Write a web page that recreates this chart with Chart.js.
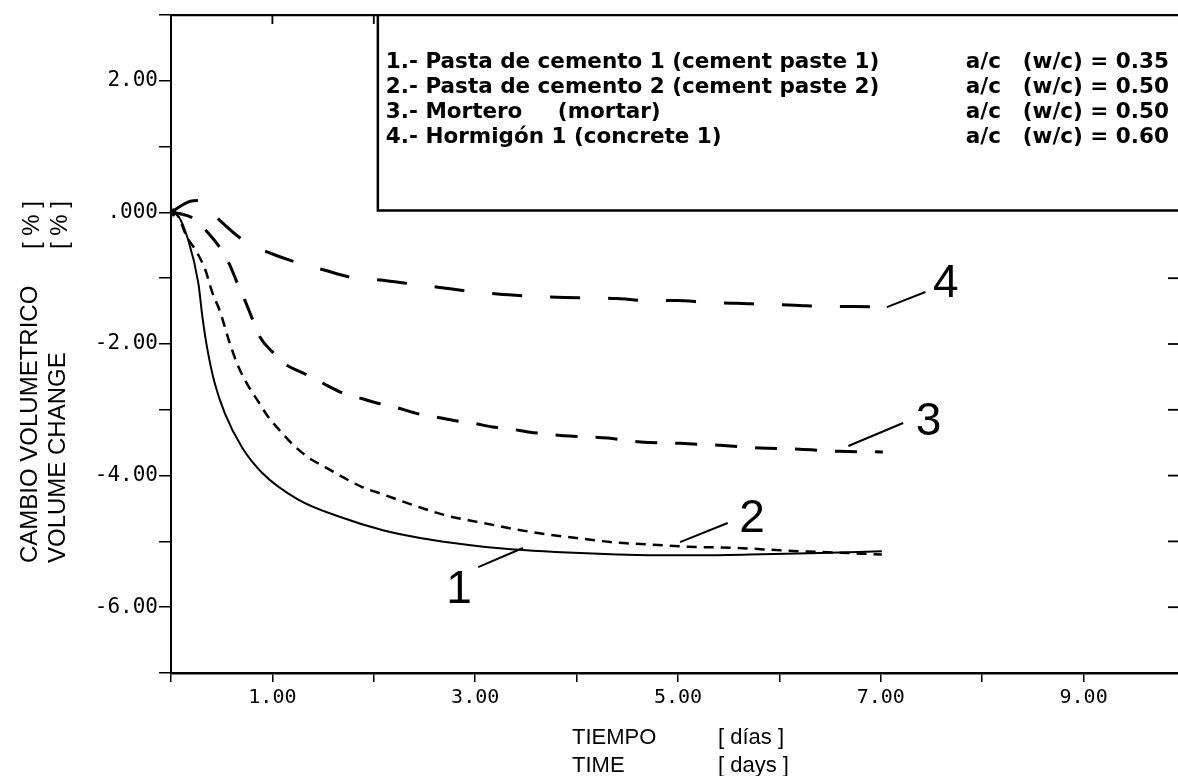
<!DOCTYPE html>
<html><head><meta charset="utf-8">
<script src="https://cdn.jsdelivr.net/npm/chart.js@4.4.1/dist/chart.umd.min.js"></script>
<style>
html,body{margin:0;padding:0;background:#fff;overflow:hidden;width:1178px;height:776px;}
#wrap{position:relative;width:1196px;height:776px;}
canvas{display:block;}
</style></head><body>
<div id="wrap"><canvas id="c" width="1196" height="776"></canvas></div>
<script>
// ---- Data ----
const days1 = [0, 0.05, 0.17, 0.27, 0.31, 0.36, 0.43, 0.53, 0.70, 0.90, 1.25, 1.67, 2.09, 2.58, 3.08, 3.47, 3.91, 4.40, 4.72, 5.20, 5.71, 6.30, 7.01];
const vol1  = [0, -0.02, -0.42, -1.08, -1.59, -2.09, -2.59, -3.05, -3.57, -3.96, -4.36, -4.63, -4.83, -4.98, -5.08, -5.13, -5.17, -5.20, -5.21, -5.21, -5.20, -5.18, -5.15];

const days2 = [0, 0.05, 0.16, 0.26, 0.34, 0.41, 0.48, 0.58, 0.65, 0.73, 0.85, 0.96, 1.07, 1.19, 1.35, 1.52, 1.69, 1.88, 2.08, 2.43, 2.75, 3.08, 3.41, 3.74, 4.06, 4.40, 4.75, 5.09, 5.58, 6.07, 6.57, 7.01];
const vol2  = [0, -0.02, -0.38, -0.62, -0.88, -1.23, -1.49, -1.99, -2.29, -2.55, -2.85, -3.11, -3.31, -3.51, -3.72, -3.87, -4.02, -4.17, -4.28, -4.47, -4.62, -4.72, -4.82, -4.90, -4.96, -5.02, -5.05, -5.08, -5.10, -5.14, -5.17, -5.20];

const days3 = [0, 0.09, 0.22, 0.36, 0.48, 0.58, 0.65, 0.73, 0.80, 0.88, 1.00, 1.14, 1.30, 1.49, 1.67, 1.84, 2.04, 2.21, 2.41, 2.58, 2.78, 2.97, 3.17, 3.34, 3.54, 3.72, 3.93, 4.11, 4.31, 4.63, 5.02, 5.41, 5.81, 6.20, 6.58, 7.02];
const vol3  = [0, -0.02, -0.09, -0.30, -0.53, -0.80, -1.06, -1.34, -1.61, -1.90, -2.12, -2.32, -2.44, -2.59, -2.73, -2.81, -2.90, -2.96, -3.05, -3.10, -3.16, -3.20, -3.26, -3.29, -3.34, -3.37, -3.40, -3.41, -3.43, -3.49, -3.51, -3.54, -3.58, -3.60, -3.63, -3.64];

const days4 = [0, 0.10, 0.19, 0.29, 0.48, 0.71, 0.98, 1.24, 1.52, 1.79, 2.09, 2.38, 2.65, 2.95, 3.22, 3.52, 3.81, 4.10, 4.40, 4.69, 4.99, 5.29, 5.58, 5.88, 6.15, 6.45, 6.73, 7.04];
const vol4  = [0, 0.10, 0.17, 0.18, -0.12, -0.42, -0.62, -0.76, -0.88, -0.99, -1.03, -1.09, -1.14, -1.20, -1.24, -1.27, -1.29, -1.30, -1.31, -1.34, -1.34, -1.37, -1.38, -1.40, -1.41, -1.43, -1.43, -1.44];

// curve numbers, their label anchors and leader lines (data units)
const curveLabels   = ['1', '2', '3', '4'];
const labelDays     = [2.84, 5.73, 7.47, 7.64];
const labelVols     = [-5.93, -4.86, -3.38, -1.29];
const leaderFromDay = [3.47, 5.02, 6.68, 7.06];
const leaderFromVol = [-5.10, -5.01, -3.55, -1.44];
const leaderToDay   = [3.03, 5.49, 7.22, 7.44];
const leaderToVol   = [-5.39, -4.72, -3.20, -1.21];

// legend text
const legendNames = ['1.- Pasta de cemento 1 (cement paste 1)', '2.- Pasta de cemento 2 (cement paste 2)', '3.- Mortero', '4.- Hormigón 1 (concrete 1)'];
const legendNamesEn = ['', '', '(mortar)', ''];
const legendWC = ['0.35', '0.50', '0.50', '0.60'];

// axis ticks
const xMin = 0, xMax = 10, yMin = -7, yMax = 3;
const xTitle = [['TIEMPO', '[ días ]'], ['TIME', '[ days ]']];
const yTitle = [['CAMBIO VOLUMETRICO', '[ % ]'], ['VOLUME CHANGE', '[ % ]']];
const legendBoxLeftDay = 2.04, legendBoxBottomVol = 0.03;

// ---- build ----
const zip = (xs, ys) => xs.map((v, i) => ({x: v, y: ys[i]}));
const curveStyle = (dash, w) => ({borderColor: '#000', borderWidth: w, borderDash: dash, pointRadius: 0, fill: false, cubicInterpolationMode: 'monotone', borderCapStyle: 'butt'});

const datasets = [
  Object.assign({label: 'c1', data: zip(days1, vol1)}, curveStyle([], 2)),
  Object.assign({label: 'c2', data: zip(days2, vol2)}, curveStyle([10, 7], 2.5)),
  Object.assign({label: 'c3', data: zip(days3, vol3)}, curveStyle([22, 18], 3)),
  Object.assign({label: 'c4', data: zip(days4, vol4)}, curveStyle([30, 28], 3)),
];
curveLabels.forEach((c, i) => {
  datasets.push({label: 'leader' + c, data: [{x: leaderFromDay[i], y: leaderFromVol[i]}, {x: leaderToDay[i], y: leaderToVol[i]}],
    borderColor: '#000', borderWidth: 2, pointRadius: 0, tension: 0, fill: false});
});
datasets.push({label: 'origin', data: [{x: 0, y: 0}], showLine: false, pointStyle: 'star', pointRadius: 5, borderColor: '#000', borderWidth: 2.5, backgroundColor: '#000'});

const monoFontX = {family: '"DejaVu Sans Mono", "Liberation Mono", monospace', size: 20};
const monoFontY = {family: '"DejaVu Sans Mono", "Liberation Mono", monospace', size: 21};

const decor = {
  id: 'decor',
  afterDraw(chart) {
    const {ctx, chartArea: a, scales: {x, y}} = chart;
    ctx.save();
    ctx.strokeStyle = '#000'; ctx.fillStyle = '#000';
    // legend box
    const bx = x.getPixelForValue(legendBoxLeftDay);
    const by = y.getPixelForValue(legendBoxBottomVol);
    ctx.lineWidth = 2.5;
    ctx.beginPath(); ctx.moveTo(bx, a.top); ctx.lineTo(bx, by); ctx.lineTo(a.right, by); ctx.stroke();
    // inward ticks on top (outside legend box) and right (below box)
    ctx.lineWidth = 1.8;
    for (let d = xMin + 1; d < xMax; d++) {
      const px = x.getPixelForValue(d);
      if (px < bx - 4) { ctx.beginPath(); ctx.moveTo(px, a.top); ctx.lineTo(px, a.top + 9); ctx.stroke(); }
    }
    for (let v = yMin + 1; v < yMax; v++) {
      const py = y.getPixelForValue(v);
      if (py > by + 4) { ctx.beginPath(); ctx.moveTo(a.right - 17, py); ctx.lineTo(a.right, py); ctx.stroke(); }
    }
    // legend text
    ctx.font = 'bold 21.5px "DejaVu Sans", sans-serif';
    ctx.textBaseline = 'middle'; ctx.textAlign = 'left';
    const tx = bx + 8;
    legendNames.forEach((t, i) => {
      const ly = a.top + 47 + i * 25.3;
      ctx.fillText(t, tx, ly);
      if (legendNamesEn[i]) ctx.fillText(legendNamesEn[i], tx + 172, ly);
      ctx.fillText('a/c', tx + 580, ly);
      ctx.textAlign = 'right';
      ctx.fillText('(w/c) = ' + legendWC[i], tx + 783, ly);
      ctx.textAlign = 'left';
    });
    // curve number labels
    ctx.font = '46px "Liberation Sans", Arial, sans-serif';
    ctx.textAlign = 'center'; ctx.textBaseline = 'alphabetic';
    curveLabels.forEach((c, i) => ctx.fillText(c, x.getPixelForValue(labelDays[i]), y.getPixelForValue(labelVols[i])));
    // x axis title
    ctx.font = '22px "Liberation Sans", Arial, sans-serif';
    ctx.textAlign = 'left';
    xTitle.forEach((row, i) => {
      const base = a.bottom + 71 + i * 28;
      ctx.fillText(row[0], a.left + 401, base);
      ctx.fillText(row[1], a.left + 547, base);
    });
    // y axis title (rotated)
    ctx.font = '24px "Liberation Sans", Arial, sans-serif';
    yTitle.forEach((row, i) => {
      const bxl = 37 + i * 28;
      ctx.save(); ctx.translate(bxl, 563); ctx.rotate(-Math.PI / 2); ctx.fillText(row[0], 0, 0); ctx.restore();
      ctx.save(); ctx.translate(bxl + 2, 249); ctx.rotate(-Math.PI / 2); ctx.fillText(row[1], 0, 0); ctx.restore();
    });
    ctx.restore();
  }
};

new Chart(document.getElementById('c'), {
  type: 'line',
  data: {datasets},
  options: {
    responsive: false, animation: false, devicePixelRatio: 1,
    layout: {padding: 0},
    plugins: {legend: {display: false}, tooltip: {enabled: false}},
    scales: {
      x: {type: 'linear', position: 'bottom', min: xMin, max: xMax,
        afterFit(s) { s.height = 103; },
        ticks: {stepSize: 1, autoSkip: false, maxRotation: 0, padding: 4, font: monoFontX, color: '#000',
          callback: v => (Math.abs(v) % 2 === 1 ? v.toFixed(2) : '')},
        grid: {drawOnChartArea: false, drawTicks: true, tickLength: 9, color: '#000', lineWidth: 1.5},
        border: {display: true, color: '#000', width: 2.5}},
      x2: {type: 'linear', position: 'top', min: xMin, max: xMax,
        afterFit(s) { s.height = 15; },
        ticks: {display: false}, grid: {display: false}, border: {display: true, color: '#000', width: 2.2}},
      y: {type: 'linear', position: 'left', min: yMin, max: yMax,
        afterFit(s) { s.width = 171; },
        ticks: {stepSize: 1, autoSkip: false, padding: 1, font: monoFontY, color: '#000',
          callback: v => (v % 2 === 0 ? (v === 0 ? '.000' : v.toFixed(2)) : '')},
        grid: {drawOnChartArea: false, drawTicks: true, tickLength: 12, color: '#000', lineWidth: 1.5},
        border: {display: true, color: '#000', width: 2}},
      y2: {type: 'linear', position: 'right', min: yMin, max: yMax,
        afterFit(s) { s.width = 11; },
        ticks: {display: false}, grid: {display: false}, border: {display: true, color: '#000', width: 2}}
    }
  },
  plugins: [decor]
});
</script>
</body></html>
